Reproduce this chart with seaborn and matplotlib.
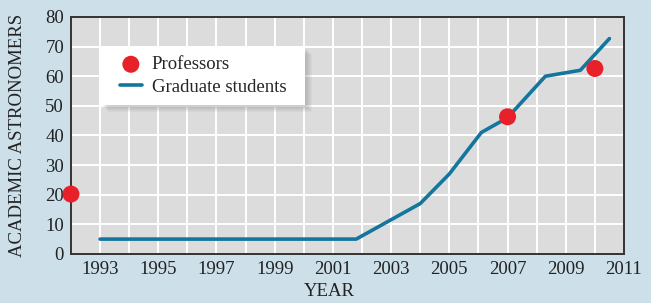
import numpy as np
import pandas as pd
import matplotlib.pyplot as plt
import seaborn as sns
from matplotlib.patches import Rectangle

# Values
grad_years = [1993, 2001.8, 2004, 2005, 2006.1, 2007, 2008.3, 2009.5, 2010.5]
grad_counts = [5, 5, 17, 27, 41, 46, 60, 62, 72.7]
prof_years = [1992, 2007, 2010]
prof_counts = [20.2, 46.3, 62.6]
year_ticks = list(range(1993, 2012, 2))
count_ticks = list(range(0, 81, 10))

bg = '#cde0ea'
panel = '#dcdcdd'
blue = '#14769c'
red = '#e8202a'

sns.set_theme(style='darkgrid')
plt.rcParams['font.family'] = ['Liberation Serif', 'DejaVu Serif']

grad = pd.DataFrame({'year': grad_years, 'count': grad_counts})
prof = pd.DataFrame({'year': prof_years, 'count': prof_counts})

fig = plt.figure(figsize=(6.51, 3.03), dpi=100, facecolor=bg)
ax = fig.add_axes([0.109, 0.162, 0.8495, 0.782])
ax.set_facecolor(panel)

sns.lineplot(data=grad, x='year', y='count', color=blue, linewidth=2.6,
             label='Graduate students', ax=ax, zorder=3)
sns.scatterplot(data=prof, x='year', y='count', color=red, s=150,
                edgecolor='none', label='Professors', ax=ax, zorder=4, clip_on=False)

ax.set_xlim(1992, 2011)
ax.set_ylim(0, 80)
ax.set_xticks(year_ticks)
ax.set_xticks(range(1992, 2012), minor=True)
ax.set_yticks(count_ticks)
ax.grid(which='both', color='white', linewidth=1.4)
ax.tick_params(which='both', length=0, labelsize=13.5, colors='#222222', pad=5)

for s in ax.spines.values():
    s.set_visible(True)
    s.set_color('#333333')
    s.set_linewidth(1.4)

ax.set_xlabel('YEAR', fontsize=13.5, color='#222222')
ax.xaxis.set_label_coords(0.468, -0.16)
ax.xaxis.label.set_va('center')
ax.set_ylabel('ACADEMIC ASTRONOMERS', fontsize=13.5, color='#222222')
ax.yaxis.set_label_coords(-0.097, 0.5)
ax.yaxis.label.set_va('center')

# legend without frame; a white box with soft shadow is drawn behind it
handles, labels = ax.get_legend_handles_labels()
order = [labels.index('Professors'), labels.index('Graduate students')]
leg = ax.legend([handles[i] for i in order], [labels[i] for i in order],
                loc='upper left', bbox_to_anchor=(0.088, 0.835), fontsize=13.5,
                frameon=False, borderpad=0, handlelength=1.2, handletextpad=0.5,
                labelspacing=0.3, borderaxespad=0)
leg.set_zorder(10)

fig.canvas.draw()
bb = leg.get_window_extent()
padx, pady = 19, 9.5
x0, y0 = bb.x0 - padx, bb.y0 - pady
w, h = bb.width + 2 * padx, bb.height + 2 * pady
for k in range(6):
    off = 2 + k
    shade = Rectangle((x0 + off, y0 - off), w, h, facecolor='#808080',
                      alpha=0.07, edgecolor='none')
    shade.set_transform(None)
    shade.set_zorder(9)
    ax.add_artist(shade)
box = Rectangle((x0, y0), w, h, facecolor='white', edgecolor='none')
box.set_transform(None)
box.set_zorder(9)
ax.add_artist(box)

fig.savefig('out.png', dpi=100, facecolor=bg)
